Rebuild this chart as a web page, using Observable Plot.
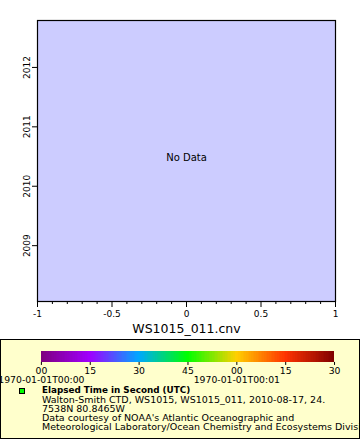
<!DOCTYPE html>
<html>
<head>
<meta charset="utf-8">
<script src="https://cdn.jsdelivr.net/npm/d3@7"></script>
<script src="https://cdn.jsdelivr.net/npm/@observablehq/plot@0.6"></script>
<style>
  html, body { margin: 0; padding: 0; background: #fff; }
  body { width: 360px; height: 440px; position: relative; overflow: hidden; font-family: "DejaVu Sans", sans-serif; }
  #chart { position: absolute; left: 0; top: 0; }
  #legend { position: absolute; left: 0; top: 339px; width: 360px; height: 100px; box-sizing: border-box;
            border: 1px solid #000; background: #ffffcc; overflow: hidden; }
  #colorbar { position: absolute; left: -1px; top: -1px; }
  #marker { position: absolute; left: 18px; top: 48px; width: 6px; height: 6px; box-sizing: border-box;
            background: #00ff00; border: 1px solid #000; }
  #legendText { position: absolute; left: 41px; top: 46px; white-space: nowrap; color: #000;
                font-size: 9.5px; line-height: 9px; }
  #legendText .title { font-weight: bold; font-size: 8.8px; }
</style>
</head>
<body>
<div id="chart"></div>
<div id="legend">
  <div id="colorbar"></div>
  <div id="marker"></div>
  <div id="legendText"></div>
</div>
<script>
// ---- data ----
const xDomain = [-1, 1];
const yDomain = [2008.06, 2012.79];
const xTicks = [-1, -0.5, 0, 0.5, 1];
const xMinorTicks = [-0.9, -0.8, -0.7, -0.6, -0.4, -0.3, -0.2, -0.1, 0.1, 0.2, 0.3, 0.4, 0.6, 0.7, 0.8, 0.9];
const yTicks = [2009, 2010, 2011, 2012];
const xLabel = "WS1015_011.cnv";
const noDataText = "No Data";

const colorDomain = [0, 90];
const paletteStops = [0, 15, 30, 45, 60, 75, 90];
const paletteColors = ["#7e007e", "#a000ff", "#00a8ff", "#00ff00", "#ffd000", "#ff3300", "#800000"];
const colorTicks = [0, 15, 30, 45, 60, 75, 90];
const colorTickLabels = ["00", "15", "30", "45", "00", "15", "30"];
const dateTicks = [0, 60];
const dateLabels = ["1970-01-01T00:00", "1970-01-01T00:01"];

const legendTitle = "Elapsed Time in Second (UTC)";
const legendLines = [
  "Walton-Smith CTD, WS1015, WS1015_011, 2010-08-17, 24.",
  "7538N 80.8465W",
  "Data courtesy of NOAA's Atlantic Oceanographic and",
  "Meteorological Laboratory/Ocean Chemistry and Ecosystems Division"
];

// ---- main chart ----
const chart = Plot.plot({
  width: 360,
  height: 339,
  marginLeft: 37,
  marginRight: 25,
  marginTop: 20,
  marginBottom: 38,
  style: { fontFamily: "DejaVu Sans", fontSize: "9px", background: "none", overflow: "visible", color: "#000" },
  x: { domain: xDomain, label: null },
  y: { domain: yDomain, label: null },
  marks: [
    Plot.frame({ fill: "#ccccff" }),
    Plot.axisX({ ticks: xMinorTicks, tickSize: 3, tickFormat: () => "", label: null }),
    Plot.axisX({ ticks: xTicks, tickSize: 6, tickPadding: 3, tickFormat: d => String(d), label: null }),
    Plot.axisY({ ticks: yTicks, tickSize: 5, tickFormat: () => "", label: null }),
    Plot.text(yTicks, { y: d => d, text: d => String(d), frameAnchor: "left", dx: -10, rotate: -90,
                        textAnchor: "middle", lineAnchor: "middle", fontSize: 9 }),
    Plot.text([noDataText], { text: d => d, frameAnchor: "middle", dy: -3, fontSize: 10 }),
    Plot.text([xLabel], { text: d => d, frameAnchor: "bottom", dy: 31, fontSize: 12.5 }),
    Plot.frame({ stroke: "#000", strokeWidth: 1.2 })
  ]
});
document.getElementById("chart").appendChild(chart);

// ---- color bar ----
const gradStep = 0.5;
const gradientSteps = d3.range(colorDomain[0], colorDomain[1], gradStep);
const colorbar = Plot.plot({
  width: 360,
  height: 48,
  marginLeft: 41,
  marginRight: 25,
  marginTop: 12,
  marginBottom: 25,
  style: { fontFamily: "DejaVu Sans", fontSize: "9.3px", background: "none", overflow: "visible", color: "#000" },
  x: { domain: colorDomain, label: null },
  color: { type: "linear", domain: paletteStops, range: paletteColors, interpolate: "rgb" },
  marks: [
    Plot.rect(gradientSteps, { x1: d => d, x2: d => d + gradStep, fill: d => d + gradStep / 2, shapeRendering: "crispEdges" }),
    Plot.axisX({ ticks: colorTicks, tickSize: 3, tickPadding: 2,
                 tickFormat: d => colorTickLabels[colorTicks.indexOf(d)], label: null }),
    Plot.text(dateTicks, { x: d => d, text: d => dateLabels[dateTicks.indexOf(d)], frameAnchor: "bottom",
                           lineAnchor: "middle", dy: 18, fontSize: 9.3 })
  ]
});
document.getElementById("colorbar").appendChild(colorbar);

// ---- legend text ----
const lt = document.getElementById("legendText");
const t = document.createElement("div");
t.className = "title";
t.textContent = legendTitle;
lt.appendChild(t);
for (const line of legendLines) {
  const d = document.createElement("div");
  d.textContent = line;
  lt.appendChild(d);
}
</script>
</body>
</html>
